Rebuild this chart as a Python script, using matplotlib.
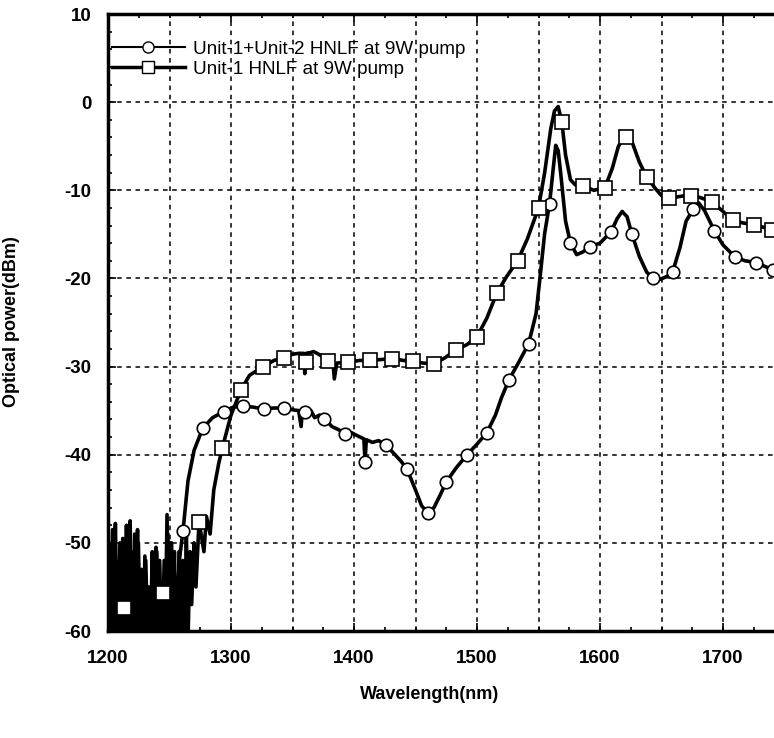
import numpy as np
import matplotlib.pyplot as plt
from matplotlib.ticker import MultipleLocator, FixedLocator
from matplotlib.lines import Line2D

plt.rcParams['font.family'] = ['Liberation Sans', 'DejaVu Sans']
plt.rcParams['axes.unicode_minus'] = False

# Unit-1+Unit-2 HNLF at 9W pump (circles): trace, noise floor first
circ_wl = [1200, 1201.5, 1203, 1204.5, 1206, 1207.5, 1209, 1210.5, 1212, 1213.5,
           1215, 1216.5, 1218, 1219.5, 1221, 1222.5, 1224, 1225.5, 1227, 1228.5,
           1230, 1231.5, 1233, 1234.5, 1236, 1237.5, 1239, 1240.5, 1242, 1243.5,
           1245, 1246.5, 1248, 1249.5, 1251, 1252.5, 1254, 1255,
           1258, 1261, 1265, 1270, 1277, 1285, 1294, 1302, 1310, 1318, 1326, 1335,
           1343, 1350, 1355, 1357, 1358, 1360, 1365, 1368, 1372, 1376, 1382, 1388,
           1393, 1398, 1402, 1405, 1408, 1409, 1410, 1415, 1420, 1426, 1432, 1438,
           1443, 1450, 1455, 1460, 1465, 1470, 1475, 1483, 1492, 1500, 1508, 1515,
           1520, 1526, 1534, 1542, 1548, 1551, 1555, 1559, 1562, 1564, 1566, 1568,
           1572, 1576, 1581, 1586, 1592, 1600, 1609, 1614, 1618, 1622, 1626, 1632,
           1638, 1643, 1649, 1654, 1659, 1665, 1670, 1676, 1680, 1685, 1693, 1700,
           1710, 1718, 1727, 1735, 1745]
circ_db = [-49, -61, -50, -60, -47.8, -61, -52, -58, -49.5, -61,
           -48, -60, -47.5, -61, -51, -59, -48.5, -61, -53, -61,
           -51.5, -61, -55, -61, -51, -60, -50.5, -61, -52, -61,
           -55, -61, -46.8, -61, -50, -61, -51, -60,
           -52, -48.6, -43, -39.5, -37.0, -35.8, -35.1, -34.6, -34.5, -34.6, -34.8, -34.7,
           -34.7, -34.9, -35.0, -36.8, -35.0, -35.2, -35.0, -35.8, -35.5, -35.9, -36.8, -37.2,
           -37.7, -37.5, -37.8, -38.0, -38.2, -40.8, -38.3, -38.6, -38.4, -38.9, -39.8, -40.7,
           -41.6, -44.0, -45.8, -46.6, -46.0, -44.6, -43.1, -41.5, -40.0, -38.8, -37.5, -35.5,
           -33.5, -31.5, -29.5, -27.4, -24.0, -20.2, -14.9, -11.5, -7.5, -4.9, -5.5, -8.0,
           -13.5, -16.0, -17.3, -17.0, -16.4, -16.0, -14.7, -13.2, -12.4, -13.0, -15.0, -17.5,
           -19.3, -19.9, -20.1, -19.8, -19.3, -16.5, -13.5, -12.1, -11.4, -12.3, -14.6, -16.2,
           -17.6, -18.0, -18.2, -18.7, -19.2]
circ_mk_wl = [1261, 1277, 1294, 1310, 1327, 1343, 1360, 1376, 1393, 1409, 1426, 1443,
              1460, 1475, 1492, 1508, 1526, 1542, 1559, 1576, 1592, 1609, 1626, 1643,
              1659, 1676, 1693, 1710, 1727, 1741]
circ_mk_db = [-48.6, -37.0, -35.1, -34.5, -34.8, -34.7, -35.2, -35.9, -37.7, -40.8, -38.9, -41.6,
              -46.6, -43.1, -40.0, -37.5, -31.5, -27.4, -11.5, -16.0, -16.4, -14.7, -15.0, -19.9,
              -19.3, -12.1, -14.6, -17.6, -18.2, -19.0]

# Unit-1 HNLF at 9W pump (squares)
sq_wl = [1200.7, 1202.2, 1203.7, 1205.2, 1206.7, 1208.2, 1209.7, 1211.2, 1212.7, 1214.2,
         1215.7, 1217.2, 1218.7, 1220.2, 1221.7, 1223.2, 1224.7, 1226.2, 1227.7, 1229.2,
         1230.7, 1232.2, 1233.7, 1235.2, 1236.7, 1238.2, 1239.7, 1241.2, 1242.7, 1244.2,
         1245.7, 1247.2, 1248.7, 1250.2, 1251.7, 1253.2, 1254.7, 1256.2, 1257.7, 1259.2,
         1260.7, 1262.2, 1263.7, 1265.2, 1266.7, 1268, 1270, 1271.5, 1274, 1278,
         1280, 1283, 1286, 1290, 1293, 1300, 1308, 1315, 1326, 1335, 1343, 1350,
         1355, 1359, 1360, 1361, 1365, 1367, 1370, 1376, 1378, 1379, 1383, 1384,
         1386, 1395, 1405, 1413, 1422, 1431, 1440, 1448, 1456, 1465, 1474, 1483,
         1492, 1500, 1508, 1516, 1524, 1533, 1541, 1550, 1555, 1560, 1563, 1566,
         1569, 1572, 1576, 1580, 1586, 1595, 1604, 1610, 1615, 1621, 1626, 1632,
         1638, 1645, 1650, 1656, 1665, 1674, 1683, 1691, 1700, 1708, 1716, 1725,
         1733, 1745]
sq_db = [-51, -61, -48.5, -61, -53, -61, -50, -61, -54, -61,
         -50.5, -61, -52, -61, -49, -61, -50, -61, -55, -61,
         -52, -61, -57, -61, -53, -61, -51, -61, -56, -61,
         -52, -61, -49, -61, -50, -61, -54, -61, -51, -61,
         -52, -61, -49, -60, -51, -57, -50, -55, -47.6, -51,
         -47, -49, -44, -41, -39.2, -35.5, -32.7, -31.0, -30.0, -29.3, -29.0, -28.6,
         -28.5, -28.5, -30.8, -28.5, -28.4, -28.3, -28.5, -29.0, -29.3, -29.4, -29.6, -31.4,
         -29.6, -29.5, -29.3, -29.3, -29.2, -29.1, -29.3, -29.4, -29.6, -29.7, -29.0, -28.1,
         -27.5, -26.6, -24.5, -21.7, -19.8, -18.0, -15.5, -12.0, -8.0, -3.0, -1.0, -0.5,
         -2.3, -6.0, -8.8, -9.4, -9.5, -10.0, -9.7, -7.5, -5.0, -3.7, -4.5, -6.8,
         -8.5, -9.8, -10.6, -10.9, -10.7, -10.5, -10.9, -11.3, -12.4, -13.4, -13.7, -13.9,
         -14.2, -14.7]
sq_mk_wl = [1213, 1245, 1274, 1293, 1308, 1326, 1343, 1361, 1379, 1395, 1413, 1431,
            1448, 1465, 1483, 1500, 1516, 1533, 1550, 1569, 1586, 1604, 1621, 1638,
            1656, 1674, 1691, 1708, 1725, 1740]
sq_mk_db = [-57.4, -55.7, -47.6, -39.2, -32.7, -30.0, -29.0, -29.5, -29.4, -29.5, -29.3, -29.1,
            -29.4, -29.7, -28.1, -26.6, -21.7, -18.0, -12.0, -2.3, -9.5, -9.7, -3.9, -8.5,
            -10.9, -10.7, -11.3, -13.4, -13.9, -14.5]

labels = ["Unit-1+Unit-2 HNLF at 9W pump", "Unit-1 HNLF at 9W pump"]
xtick_labels = [1200, 1300, 1400, 1500, 1600, 1700]
xgrid = [1250, 1350, 1450, 1550, 1650]

fig = plt.figure(figsize=(7.74, 7.38), dpi=100)
# right edge of the plot falls outside the picture, as in the scanned figure
ax = fig.add_axes([108/774, 1-631/738, (846-108)/774, (631-14)/738])

lw = 2.6
ax.plot(circ_wl, circ_db, color='black', lw=lw, solid_joinstyle='round')
ax.plot(sq_wl, sq_db, color='black', lw=lw, solid_joinstyle='round')
ax.plot(circ_mk_wl, circ_mk_db, ls='none', marker='o', ms=9, mfc='white', mec='black', mew=1.2)
ax.plot(sq_mk_wl, sq_mk_db, ls='none', marker='s', ms=9.5, mfc='white', mec='black', mew=1.2)

ax.set_xlim(1200, 1800)
ax.set_ylim(-60, 10)

ax.set_xticks(xtick_labels)
ax.xaxis.set_minor_locator(FixedLocator(sorted(xgrid + [v + 25 for v in xtick_labels] +
                                               [v - 25 for v in xtick_labels[1:]])))
ax.yaxis.set_major_locator(MultipleLocator(10))
ax.yaxis.set_minor_locator(MultipleLocator(2))

ax.tick_params(which='both', direction='in', top=True, right=False, width=1.2)
ax.tick_params(which='major', length=6)
ax.tick_params(which='minor', length=3)
ax.tick_params(axis='x', which='major', pad=14)
ax.tick_params(axis='y', which='major', pad=12)
for t in ax.get_xticklabels() + ax.get_yticklabels():
    t.set_fontsize(13.5)
    t.set_fontweight('bold')

ax.grid(True, which='major', color='black', lw=1.1, linestyle=(0, (3, 3)))
for v in xgrid:
    ax.axvline(v, color='black', lw=1.1, linestyle=(0, (3, 3)), zorder=0.5)
for s in ['left', 'top', 'bottom']:
    ax.spines[s].set_linewidth(2.5)

ax.set_xlabel("Wavelength(nm)", fontsize=13, fontweight='bold')
ax.set_ylabel("Optical power(dBm)", fontsize=13, fontweight='bold')
ax.xaxis.set_label_coords((430-108)/738, -(686-631)/617)
ax.yaxis.set_label_coords(-(108-20)/738, (631-322)/617)

handles = [Line2D([], [], color='black', lw=1.5, marker='o', ms=8, mfc='white', mec='black'),
           Line2D([], [], color='black', lw=2.5, marker='s', ms=8.5, mfc='white', mec='black')]
ax.legend(handles, labels, loc='upper left', bbox_to_anchor=(0.0, 0.963), frameon=False,
          fontsize=13.6, handlelength=3.87, handletextpad=0.42, labelspacing=0.15,
          borderaxespad=0.2, borderpad=0)

fig.savefig("out.png", dpi=100)
